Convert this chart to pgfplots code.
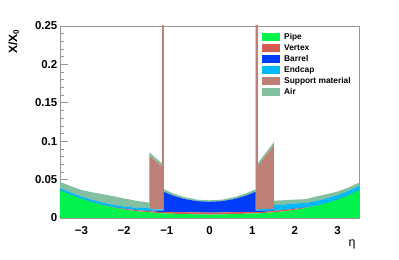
\documentclass[border=0pt]{standalone}
\usepackage{pgfplots}
\pgfplotsset{compat=1.18}
\usepackage{pgfplotstable}
\usepackage{fontspec}
\setmainfont{Liberation Sans}
\definecolor{pipecol}{RGB}{0,242,75}
\definecolor{vtxcol}{RGB}{215,90,80}
\definecolor{barcol}{RGB}{0,60,250}
\definecolor{endcol}{RGB}{0,185,250}
\definecolor{supcol}{RGB}{190,128,118}
\definecolor{aircol}{RGB}{130,192,160}
\definecolor{framecol}{RGB}{150,150,150}
\pgfplotstableread{
x P V B E S A
-3.50 0.0360 0 0 0.0030 0 0.0080
-3.25 0.0300 0 0 0.0030 0 0.0085
-3.00 0.0250 0 0 0.0030 0 0.0085
-2.75 0.0205 0 0 0.0030 0 0.0100
-2.50 0.0170 0 0 0.0030 0 0.0110
-2.25 0.0138 0.0003 0 0.0030 0 0.0113
-2.00 0.0110 0.0010 0 0.0030 0 0.0105
-1.70 0.0088 0.0015 0 0.0030 0 0.0090
-1.41 0.0075 0.0015 0 0.0045 0 0.0065
-1.41 0.0075 0.0015 0.0005 0.0020 0.0700 0.0040
-1.11 0.0060 0.0015 0.0020 0.0015 0.0560 0.0040
-1.11 0.0060 0.0015 0.0020 0.0015 0.3000 0.0040
-1.07 0.0060 0.0015 0.0020 0.0015 0.3000 0.0040
-1.07 0.0060 0.0020 0.0260 0 0 0.0035
-0.85 0.0056 0.0023 0.0211 0 0 0.0030
-0.60 0.0051 0.0025 0.0173 0 0 0.0025
-0.30 0.0047 0.0025 0.01475 0 0 0.0020
0.00 0.0045 0.0025 0.0140 0 0 0.0020
0.30 0.0047 0.0025 0.01475 0 0 0.0020
0.60 0.0051 0.0025 0.0173 0 0 0.0025
0.85 0.0056 0.0023 0.0211 0 0 0.0030
1.08 0.0060 0.0020 0.0260 0 0 0.0035
1.08 0.0060 0.0015 0.0020 0.0015 0.3000 0.0040
1.13 0.0060 0.0015 0.0020 0.0015 0.3000 0.0040
1.13 0.0060 0.0015 0.0020 0.0020 0.0560 0.0040
1.51 0.0075 0.0015 0.0010 0.0020 0.0830 0.0040
1.51 0.0075 0.0020 0 0.0070 0 0.0060
1.80 0.0090 0.0018 0 0.0070 0 0.0055
2.10 0.0115 0.0012 0 0.0065 0 0.0050
2.25 0.0130 0.0005 0 0.0060 0 0.0050
2.50 0.0160 0 0 0.0060 0 0.0060
2.75 0.0195 0 0 0.0060 0 0.0055
3.00 0.0240 0 0 0.0060 0 0.0045
3.25 0.0295 0 0 0.0055 0 0.0045
3.50 0.0360 0 0 0.0055 0 0.0045
}\mat
\begin{document}
\begin{tikzpicture}
\path[use as bounding box] (-60bp,-42bp) rectangle (339bp,218bp);
\begin{axis}[
  scale only axis, width=299bp, height=192bp,
  xmin=-3.5, xmax=3.5, ymin=0, ymax=0.25,
  stack plots=y,
  axis line style={draw=framecol, line width=0.8bp},
  tick pos=left, tick align=inside,
  xtick={-3,-2,-1,0,1,2,3},
  xticklabels={−3,−2,−1,0,1,2,3},
  x tick style={draw=none},
  ytick={0,0.05,0.1,0.15,0.2,0.25},
  yticklabels={0,0.05,0.1,0.15,0.2,0.25},
  minor y tick num=4,
  y tick style={draw=framecol, line width=0.6bp},
  major tick length=8bp, minor tick length=4bp,
  tick label style={font=\fontsize{11.5}{12}\selectfont\bfseries},
  yticklabel style={inner xsep=2.5bp},
  xticklabel style={yshift=-5bp},
  ylabel={X/X\textsubscript{0}},
  ylabel style={at={(axis description cs:-0.184,1)}, anchor=north east, font=\fontsize{12}{13}\selectfont\bfseries},
  xlabel={η},
  xlabel style={at={(axis description cs:0.977,-0.14)}, anchor=center, font=\fontsize{12.5}{13}\selectfont},
  legend cell align=left,
  legend style={draw=none, fill=none, at={(axis description cs:0.6756,0.9635)}, anchor=north west,
    inner sep=0pt, row sep=3bp, font=\fontsize{8.4}{9}\selectfont\bfseries,
    nodes={inner sep=0pt, text height=6.5bp, text depth=1.5bp},
    /tikz/every odd column/.append style={column sep=4bp}},
  legend image code/.code={\fill[#1] (0bp,-3.8bp) rectangle (18bp,3.8bp); \fill[black!55] (9bp,0bp) circle (0.45bp);},
]
\addplot[fill=pipecol, draw=none] table[x=x,y=P]{\mat} \closedcycle;
\addplot[fill=vtxcol, draw=none] table[x=x,y=V]{\mat} \closedcycle;
\addplot[fill=barcol, draw=none] table[x=x,y=B]{\mat} \closedcycle;
\addplot[fill=endcol, draw=none] table[x=x,y=E]{\mat} \closedcycle;
\addplot[fill=supcol, draw=none] table[x=x,y=S]{\mat} \closedcycle;
\addplot[fill=aircol, draw=none] table[x=x,y=A]{\mat} \closedcycle;
\legend{Pipe,Vertex,Barrel,Endcap,Support material,Air}
\end{axis}
\end{tikzpicture}
\end{document}
